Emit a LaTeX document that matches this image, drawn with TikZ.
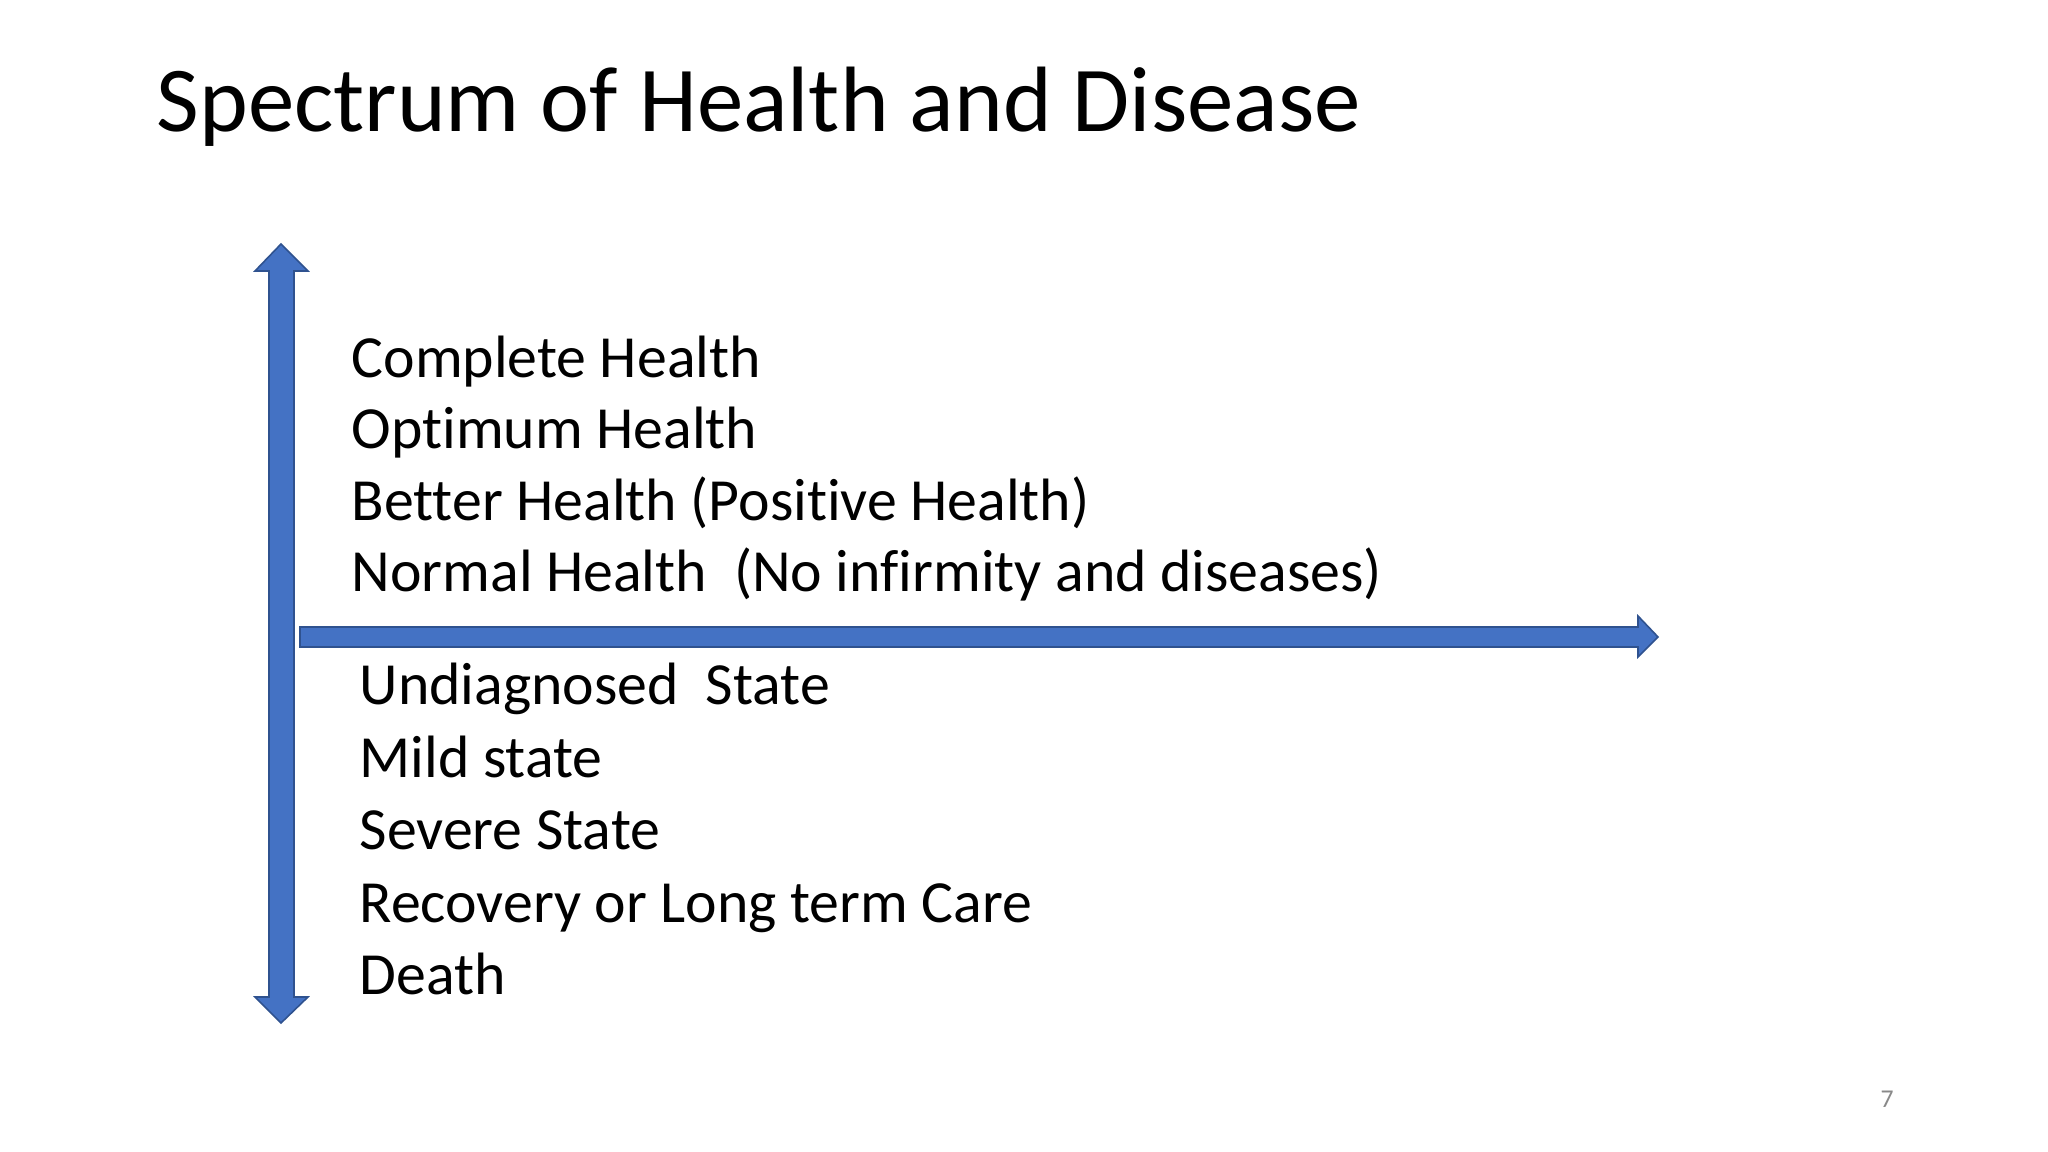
\documentclass[tikz,border=0pt]{standalone}
\usepackage{fontspec}
\setmainfont{Carlito}[Ligatures={NoCommon}]
\usepackage{xcolor}
\usetikzlibrary{positioning,calc}

\definecolor{axisfill}{RGB}{68,114,196}
\definecolor{axisline}{RGB}{47,82,143}
\definecolor{pagegray}{RGB}{137,137,137}

\tikzset{
    blockarrow/.style={fill=axisfill, draw=axisline, line width=0.45pt, line join=miter},
    stateitem/.style={anchor=base west, inner sep=0pt, font=\fontsize{17}{20}\selectfont},
    slidetitle/.style={anchor=base west, inner sep=0pt, font=\fontsize{26.4}{31}\selectfont}
}

\begin{document}
\begin{tikzpicture}[x=0.01cm, y=-0.01cm]
    \useasboundingbox (0,0) rectangle (2048,1152);
    \fill[white] (0,0) rectangle (2048,1152);

    % title
    \node[slidetitle] (title) at (156,132) {Spectrum of Health and Disease};

    % vertical axis (double headed)
    \draw[blockarrow] (281,244) -- (308,271) -- (294,271) -- (294,997) -- (308,997)
        -- (281,1023) -- (255,997) -- (269,997) -- (269,271) -- (255,271) -- cycle;

    % horizontal axis
    \draw[blockarrow] (300,627) -- (1638,627) -- (1638,616) -- (1658,637) -- (1638,657)
        -- (1638,647) -- (300,647) -- cycle;

    % above the line: health
    \node[stateitem] (complete) at (351,378) {Complete Health};
    \node[stateitem] (optimum) at (351,449) {Optimum Health};
    \node[stateitem] (better) at (351,521) {Better Health (Positive Health)};
    \node[stateitem] (normal) at (351,592) {Normal Health\ \ (No infirmity and diseases)};

    % below the line: disease
    \node[stateitem] (undiag) at (359,705) {Undiagnosed\ \ State};
    \node[stateitem] (mild) at (359,777) {Mild state};
    \node[stateitem] (severe) at (359,849) {Severe State};
    \node[stateitem] (recovery) at (359,922) {Recovery or Long term Care};
    \node[stateitem] (death) at (359,994) {Death};

    \node[anchor=base west, inner sep=0pt, text=pagegray, font=\fontsize{7.3}{9}\selectfont] (pagenum) at (1880,1107) {7};
\end{tikzpicture}
\end{document}
